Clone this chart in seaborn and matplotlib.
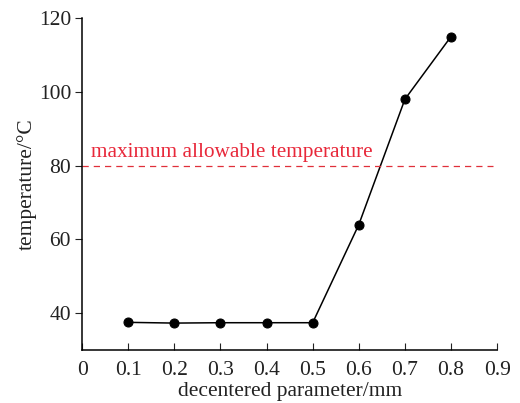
import matplotlib
matplotlib.use("Agg")
import matplotlib.pyplot as plt
import seaborn as sns
import pandas as pd

x_vals = [0.1, 0.2, 0.3, 0.4, 0.5, 0.6, 0.7, 0.8]
temps = [37.5, 37.3, 37.4, 37.4, 37.4, 64.0, 98.0, 115.0]
limit_temp = 80
limit_label = "maximum allowable temperature"
x_ticks = [0, 0.1, 0.2, 0.3, 0.4, 0.5, 0.6, 0.7, 0.8, 0.9]
x_tick_labels = ["0", "0.1", "0.2", "0.3", "0.4", "0.5", "0.6", "0.7", "0.8", "0.9"]
y_ticks = [40, 60, 80, 100, 120]

sns.set_style("ticks")
plt.rcParams['font.family'] = ['Liberation Serif', 'DejaVu Serif']

df = pd.DataFrame({"x": x_vals, "t": temps})

fig = plt.figure(figsize=(5.2, 4.03), dpi=100)
ax = fig.add_axes([0.158, 0.1315, 0.798, 0.8235])
sns.lineplot(data=df, x="x", y="t", ax=ax, color="black", marker="o",
             markersize=6.5, linewidth=1.1, markeredgecolor="black")
ax.hlines(limit_temp, 0, 0.89, colors="#e0303a", linestyles=(0, (5, 4)), linewidth=0.9)
ax.text(0.02, limit_temp + 2.3, limit_label, color="#e8283a", fontsize=15.3)

ax.set_xlim(0, 0.9)
ax.set_ylim(30, 120)
ax.set_xticks(x_ticks)
ax.set_xticklabels(x_tick_labels)
ax.set_yticks(y_ticks)
ax.tick_params(axis="x", direction="in", length=5, labelsize=15.5, colors="#222222", pad=8)
ax.tick_params(axis="y", direction="out", length=5, labelsize=15.5, colors="#222222", pad=3)
for s in ["left", "bottom"]:
    ax.spines[s].set_linewidth(1.1)
    ax.spines[s].set_color("black")
sns.despine(ax=ax)
ax.set_xlabel("decentered parameter/mm", fontsize=15.5, color="#222222", labelpad=1)
ax.set_ylabel("temperature/°C", fontsize=15.5, color="#222222", labelpad=1)

fig.savefig("out.png", dpi=100)
